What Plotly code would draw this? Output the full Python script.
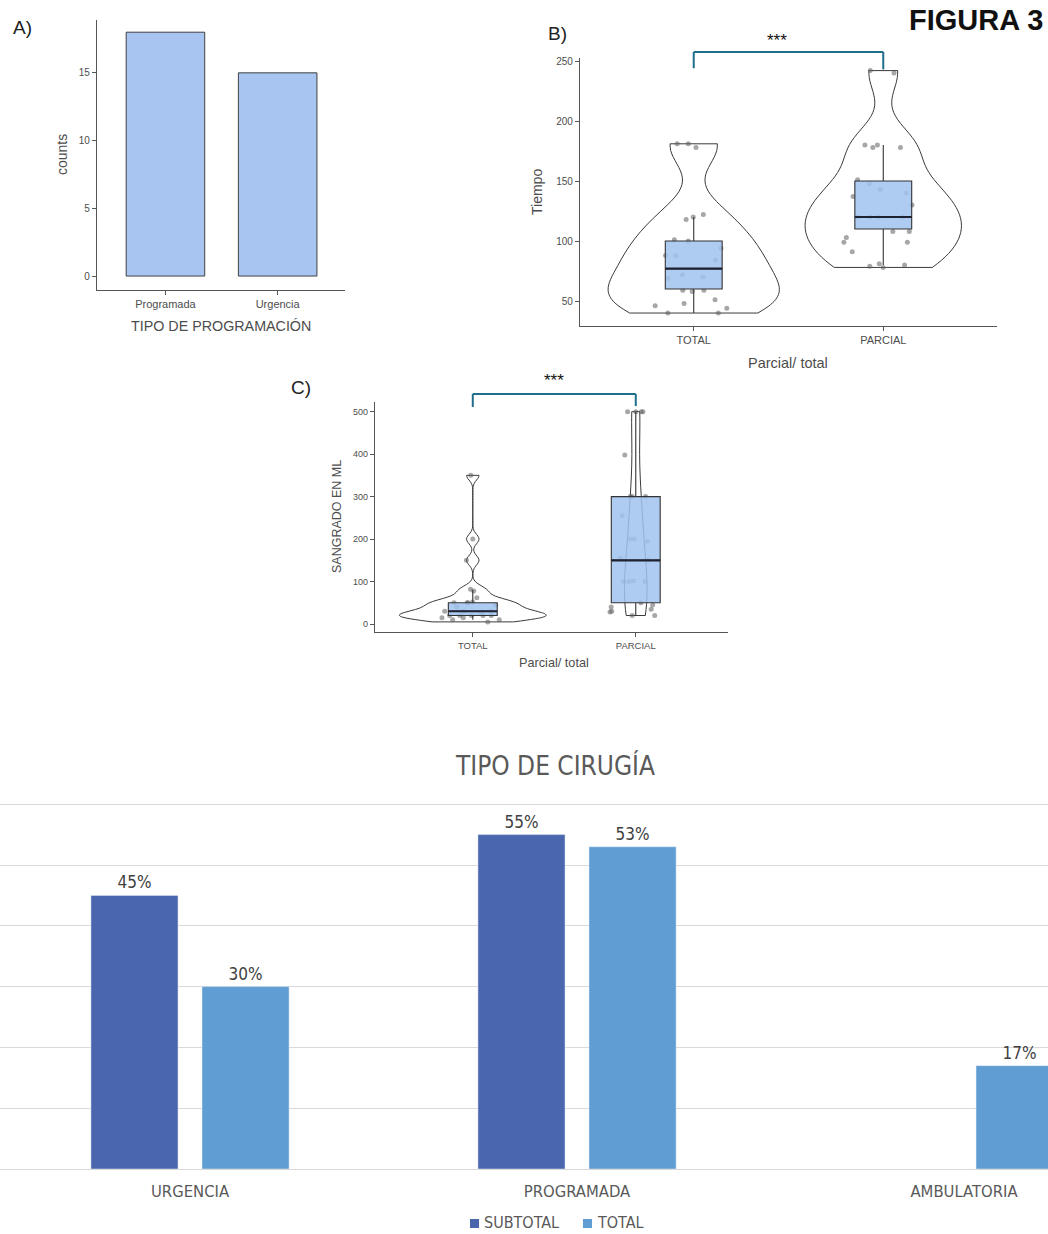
import numpy as np
import plotly.graph_objects as go

W, H = 1048, 1234

# ---------------- data ----------------
# Panel A
a_categories = ["Programada", "Urgencia"]
a_counts = [18, 15]

# Panel B  (Tiempo by Parcial/total)
b_categories = ["TOTAL", "PARCIAL"]
b_total = [181, 181, 178, 122, 118, 120, 101, 100, 94, 88, 88, 84, 72, 70, 69,
           59, 59, 58, 51, 48, 46, 44, 40, 40]
b_parcial = [242, 240, 180, 180, 178, 178, 151, 148, 143, 140, 137, 130, 120, 120,
             120, 120, 108, 108, 103, 99, 99, 91, 81, 80, 79, 78]
b_q1 = [60, 110]
b_median = [77, 120]
b_q3 = [100, 150]
b_lower = [40, 80]
b_upper = [120, 180]

# Panel C  (Sangrado en ML by Parcial/total)
c_categories = ["TOTAL", "PARCIAL"]
c_total = [350, 200, 150, 82, 78, 62, 52, 50, 50, 50, 45, 40, 30, 30, 30, 25,
           20, 20, 20, 20, 20, 15, 15, 10, 10, 5]
c_parcial = [500, 500, 500, 500, 398, 300, 300, 300, 255, 200, 200, 195, 155, 150,
             102, 100, 100, 100, 50, 45, 40, 35, 30, 28, 20, 20]
c_q1 = [20, 50]
c_median = [30, 150]
c_q3 = [50, 300]
c_lower = [10, 20]
c_upper = [80, 500]

# Bottom panel
d_categories = ["URGENCIA", "PROGRAMADA", "AMBULATORIA"]
d_series = ["SUBTOTAL", "TOTAL"]
d_subtotal = [45, 55, None]
d_total = [30, 53, 17]

# ---------------- helpers ----------------
def fx(x):
    return x / W

def fy(y):
    return 1 - y / H

def to_paper(val, dom, rng):
    return dom[0] + (val - rng[0]) / (rng[1] - rng[0]) * (dom[1] - dom[0])

def nrd0(v):
    v = np.asarray(v, dtype=float)
    sd = v.std(ddof=1)
    iqr = np.percentile(v, 75) - np.percentile(v, 25)
    return 0.9 * min(sd, iqr / 1.34) * len(v) ** -0.2

def kde_peak(v, bw):
    v = np.asarray(v, dtype=float)
    g = np.linspace(v.min(), v.max(), 512)
    d = np.exp(-0.5 * ((g[:, None] - v[None, :]) / bw) ** 2).sum(1)
    return d.max() / (len(v) * bw * np.sqrt(2 * np.pi))

ARIAL = "Liberation Sans, Arial, sans-serif"
GOTH = "Liberation Sans Narrow, DejaVu Sans Condensed, Liberation Sans, sans-serif"
TICKC = "#4d4d4d"
AXC = "#555555"
BOXFILL = "rgba(160,194,240,0.85)"
VLINE = "#3a3a3a"
PTC = "rgba(95,95,95,0.55)"
BRK = "#1f6e8c"
C_SUB = "#4a66ad"
C_TOT = "#609dd2"

# domains / ranges
A_xd, A_yd = [fx(97), fx(345)], [fy(290), fy(20)]
A_xr, A_yr = [-0.61, 1.6], [-1.03, 18.9]
B_xd, B_yd = [fx(580), fx(997)], [fy(326), fy(58)]
B_xr, B_yr = [-0.6, 1.6], [29.2, 252.5]
C_xd, C_yd = [fx(375), fx(728)], [fy(632), fy(402)]
C_xr, C_yr = [-0.6, 1.566], [-18.8, 522.7]
D_xd, D_yd = [0.0, 1.0], [fy(1169), fy(803)]
D_xr, D_yr = [-0.491, 2.217], [0, 60.2]

fig = go.Figure()

# ---------------- Panel A ----------------
fig.add_trace(go.Bar(
    x=list(range(len(a_categories))), y=a_counts, width=0.7,
    marker=dict(color="#a7c5f0", line=dict(color="#404040", width=1)),
    xaxis="x", yaxis="y", showlegend=False, hoverinfo="skip"))

# ---------------- Panel B / C violins, boxes, points ----------------
def add_violin_panel(cats, groups, q1, med, q3, lo, hi, xa, ya):
    bws = [nrd0(g) for g in groups]
    peaks = [kde_peak(g, b) for g, b in zip(groups, bws)]
    pmax = max(peaks)
    for i, vals in enumerate(groups):
        # ggplot-like "area" scaling: width proportional to peak density
        fig.add_trace(go.Violin(
            x=[i] * len(vals), y=vals, width=0.9 * peaks[i] / pmax,
            spanmode="hard", bandwidth=bws[i], scalemode="width",
            line=dict(color=VLINE, width=1), fillcolor="rgba(255,255,255,0)",
            points=False, box_visible=False, meanline_visible=False,
            xaxis=xa, yaxis=ya, showlegend=False, hoverinfo="skip"))
    xs, ys = [], []
    for i, vals in enumerate(groups):
        xs += [i] * len(vals)
        ys += list(vals)
    fig.add_trace(go.Box(
        x=xs, y=ys, width=0.5, boxpoints="all", jitter=1.0,
        pointpos=0, fillcolor="rgba(0,0,0,0)",
        line=dict(color="rgba(0,0,0,0)", width=0),
        marker=dict(color=PTC, size=5),
        xaxis=xa, yaxis=ya, showlegend=False, hoverinfo="skip"))
    fig.add_trace(go.Box(
        x=list(range(len(cats))), q1=q1, median=med, q3=q3,
        lowerfence=lo, upperfence=hi, width=0.3, whiskerwidth=0,
        fillcolor=BOXFILL, line=dict(color="#333333", width=1.1),
        boxpoints=False, xaxis=xa, yaxis=ya, showlegend=False, hoverinfo="skip"))
    # thicker median line (ggplot fatten)
    fig.add_trace(go.Box(
        x=list(range(len(cats))), q1=med, median=med, q3=med,
        lowerfence=med, upperfence=med, width=0.3, whiskerwidth=0,
        fillcolor="rgba(0,0,0,0)", line=dict(color="#1e2230", width=2.2),
        boxpoints=False, xaxis=xa, yaxis=ya, showlegend=False, hoverinfo="skip"))

add_violin_panel(b_categories, [b_total, b_parcial], b_q1, b_median, b_q3,
                 b_lower, b_upper, "x2", "y2")
add_violin_panel(c_categories, [c_total, c_parcial], c_q1, c_median, c_q3,
                 c_lower, c_upper, "x3", "y3")

# ---------------- Bottom panel ----------------
for name, vals, col in [(d_series[0], d_subtotal, C_SUB), (d_series[1], d_total, C_TOT)]:
    fig.add_trace(go.Bar(
        x=list(range(len(d_categories))), y=vals, name=name,
        marker=dict(color=col), texttemplate="%{y}%", textposition="outside",
        textfont=dict(size=17, color="#404040", family=GOTH), cliponaxis=False,
        xaxis="x4", yaxis="y4", hoverinfo="skip", showlegend=False))

# ---------------- axes ----------------
def ggx(dom, rng, ticktext, anchor, size):
    return dict(domain=dom, range=rng, anchor=anchor, type="linear",
                tickvals=list(range(len(ticktext))), ticktext=ticktext,
                showline=True, linecolor=AXC, linewidth=1.2, ticks="outside",
                ticklen=4, tickcolor=AXC, showgrid=False, zeroline=False,
                tickfont=dict(size=size, color=TICKC, family=ARIAL), fixedrange=True)

def ggy(dom, rng, tickvals, anchor, size):
    return dict(domain=dom, range=rng, anchor=anchor, tickvals=tickvals,
                showline=True, linecolor=AXC, linewidth=1.2, ticks="outside",
                ticklen=4, tickcolor=AXC, showgrid=False, zeroline=False,
                tickfont=dict(size=size, color=TICKC, family=ARIAL), fixedrange=True)

layout = dict(
    width=W, height=H, margin=dict(l=0, r=0, t=0, b=0, autoexpand=False),
    paper_bgcolor="white", plot_bgcolor="rgba(0,0,0,0)",
    barmode="group", bargap=0.426, bargroupgap=0.216,
    boxmode="overlay", violinmode="overlay", showlegend=False,
    xaxis=ggx(A_xd, A_xr, a_categories, "y", 11),
    yaxis=ggy(A_yd, A_yr, [0, 5, 10, 15], "x", 10),
    xaxis2=ggx(B_xd, B_xr, b_categories, "y2", 11),
    yaxis2=ggy(B_yd, B_yr, [50, 100, 150, 200, 250], "x2", 10),
    xaxis3=ggx(C_xd, C_xr, c_categories, "y3", 9.5),
    yaxis3=ggy(C_yd, C_yr, [0, 100, 200, 300, 400, 500], "x3", 9),
    xaxis4=dict(domain=D_xd, range=D_xr, anchor="y4", type="linear",
                tickvals=list(range(len(d_categories))), ticktext=d_categories,
                showline=False, ticks="", showgrid=False, zeroline=False,
                ticklabelstandoff=10,
                tickfont=dict(size=16.5, color="#595959", family=GOTH), fixedrange=True),
    yaxis4=dict(domain=D_yd, range=D_yr, anchor="x4", dtick=10, tick0=0,
                showgrid=True, gridcolor="#d9d9d9", gridwidth=1,
                zeroline=True, zerolinecolor="#d9d9d9", zerolinewidth=1,
                showticklabels=False, ticks="", showline=False, fixedrange=True),
)

# ---------------- text ----------------
ann = []
def text(x, y, t, size, color="#4d4d4d", family=ARIAL, angle=0, bold=False,
         xanchor="center"):
    if bold:
        t = "<b>" + t + "</b>"
    ann.append(dict(x=fx(x), y=fy(y), xref="paper", yref="paper", text=t,
                    showarrow=False, xanchor=xanchor, yanchor="middle", borderpad=0,
                    textangle=angle, font=dict(size=size, color=color, family=family)))

text(976, 20, "FIGURA 3", 29, color="#111111", bold=True)
text(12, 27, "A)", 19, color="#222222", xanchor="left")
text(547, 34, "B)", 19, color="#222222", xanchor="left")
text(290, 387, "C)", 19, color="#222222", xanchor="left")
text(62, 155, "counts", 14, angle=-90)
text(221, 326, "TIPO DE PROGRAMACIÓN", 14.3)
text(537, 192, "Tiempo", 14, angle=-90)
text(788, 363, "Parcial/ total", 14.5)
text(337, 517, "SANGRADO EN ML", 12.5, angle=-90)
text(554, 663, "Parcial/ total", 12.7)
text(555, 765, "TIPO DE CIRUGÍA", 26, color="#595959", family=GOTH)

# legend of bottom chart: coloured squares + labels
shapes = []
for (sx, tx), name, col in zip([(470, 483), (583, 596)], d_series, [C_SUB, C_TOT]):
    shapes.append(dict(type="rect", xref="paper", yref="paper",
                       x0=fx(sx), x1=fx(sx + 9), y0=fy(1228), y1=fy(1219),
                       fillcolor=col, line=dict(width=0)))
    text(tx, 1222, name, 16, color="#595959", family=GOTH, xanchor="left")

# significance brackets
def bracket(xd, xr, yd, yr, x0, x1, ytop, yleg0, yleg1, star_y):
    X0, X1 = to_paper(x0, xd, xr), to_paper(x1, xd, xr)
    Yt = to_paper(ytop, yd, yr)
    shp = [
        dict(type="line", xref="paper", yref="paper", x0=X0, x1=X1, y0=Yt, y1=Yt,
             line=dict(color=BRK, width=2)),
        dict(type="line", xref="paper", yref="paper", x0=X0, x1=X0, y0=Yt,
             y1=to_paper(yleg0, yd, yr), line=dict(color=BRK, width=2)),
        dict(type="line", xref="paper", yref="paper", x0=X1, x1=X1, y0=Yt,
             y1=to_paper(yleg1, yd, yr), line=dict(color=BRK, width=2)),
    ]
    ann.append(dict(x=(X0 + X1) / 2, y=to_paper(star_y, yd, yr), xref="paper",
                    yref="paper", text="***", showarrow=False, yanchor="middle",
                    font=dict(size=17, color="#111111", family=ARIAL)))
    return shp

shapes += bracket(B_xd, B_xr, B_yd, B_yr, 0, 1, 257.5, 244, 243, 267)
shapes += bracket(C_xd, C_xr, C_yd, C_yr, 0, 1, 541.6, 511, 513, 574)

layout["annotations"] = ann
layout["shapes"] = shapes
fig.update_layout(**layout)

fig.write_html("out.html",
               config={"displayModeBar": False},
               post_script="document.body.style.margin='0px';"
                           "document.body.style.overflow='hidden';")
